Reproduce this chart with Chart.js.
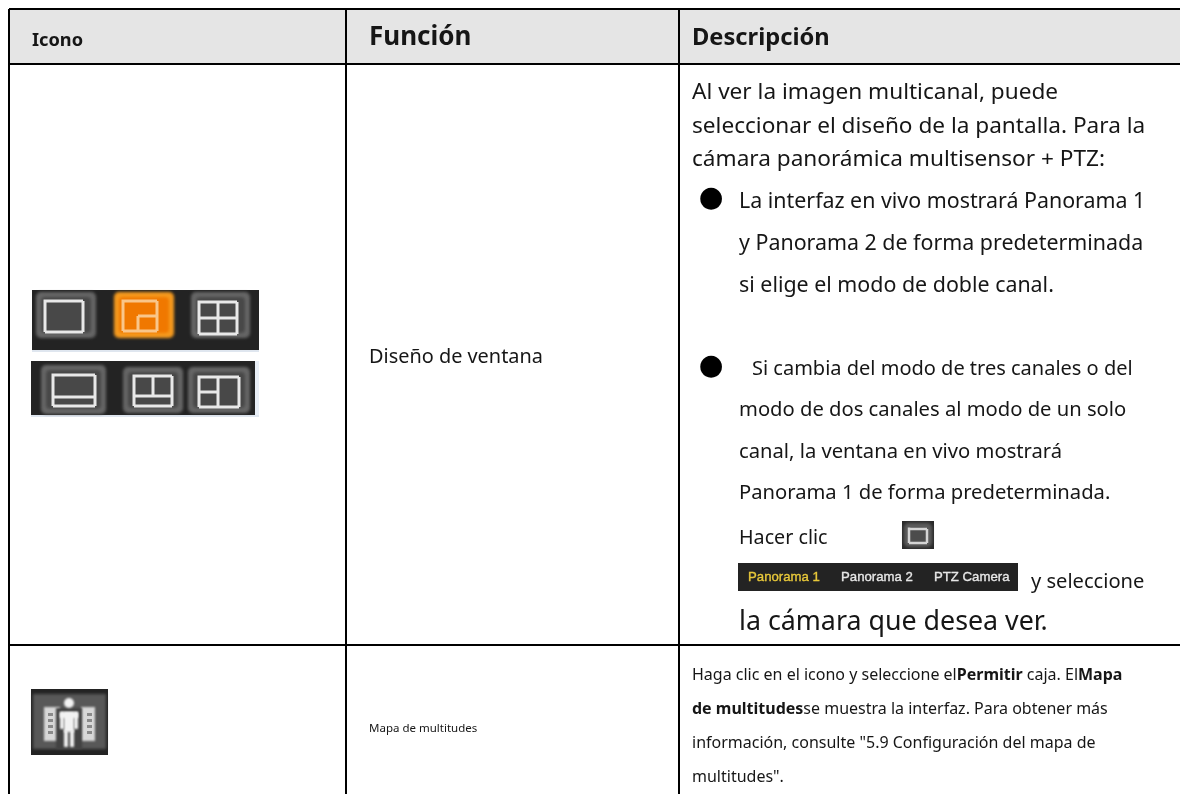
<!DOCTYPE html>
<html>
<head>
<meta charset="utf-8">
<title>Icono / Función / Descripción</title>
<script src="https://cdn.jsdelivr.net/npm/chart.js@4"></script>
<style>
    html, body { margin: 0; padding: 0; background: #fff; overflow: hidden; }
    canvas { display: block; }
</style>
</head>
<body>
<canvas id="tableChart" width="1180" height="794"></canvas>
<script>
// table content
const headers = ['Icono', 'Función', 'Descripción'];
const functions = ['Diseño de ventana', 'Mapa de multitudes'];
const introLines = [
    'Al ver la imagen multicanal, puede',
    'seleccionar el diseño de la pantalla. Para la',
    'cámara panorámica multisensor + PTZ:'
];
const bulletOne = [
    'La interfaz en vivo mostrará Panorama 1',
    'y Panorama 2 de forma predeterminada',
    'si elige el modo de doble canal.'
];
const bulletTwo = [
    'Si cambia del modo de tres canales o del',
    'modo de dos canales al modo de un solo',
    'canal, la ventana en vivo mostrará',
    'Panorama 1 de forma predeterminada.'
];
const clickLabel = 'Hacer clic';
const selectLabel = 'y seleccione';
const closingLine = 'la cámara que desea ver.';
const panoramaTabs = ['Panorama 1', 'Panorama 2', 'PTZ Camera'];
const crowdLines = [
    [['Haga clic en el icono y seleccione el', 400], ['Permitir', 700], [' caja. El', 400], ['Mapa', 700]],
    [['de multitudes', 700], ['se muestra la interfaz. Para obtener más', 400]],
    [['información, consulte "5.9 Configuración del mapa de', 400]],
    [['multitudes".', 400]]
];

// table rules, in page pixels
const columnEdges = [9, 346, 679];
const rowEdges = [9, 63.5, 645];

const FONT = '"Noto Sans", sans-serif';
const INK = '#161616';

function edgeTicks(edges) {
    return (scale) => { scale.ticks = edges.map(v => ({ value: v })); };
}

const tablePlugin = {
    id: 'tablePlugin',
    beforeDraw(chart) {
        const ctx = chart.ctx;
        const { x, y } = chart.scales;
        ctx.save();
        ctx.fillStyle = '#fff';
        ctx.fillRect(0, 0, chart.width, chart.height);
        ctx.fillStyle = '#e5e5e5';
        ctx.fillRect(x.getPixelForValue(9), y.getPixelForValue(9), 1180, y.getPixelForValue(63.5) - y.getPixelForValue(9));
        ctx.restore();
    },
    afterDraw(chart) {
        const ctx = chart.ctx;
        const { x, y } = chart.scales;
        const X = v => x.getPixelForValue(v);
        const Y = v => y.getPixelForValue(v);

        function text(str, px, py, size, weight, color, family) {
            ctx.font = `${weight || 400} ${size}px ${family || FONT}`;
            ctx.fillStyle = color || INK;
            ctx.textBaseline = 'alphabetic';
            ctx.fillText(str, X(px), Y(py));
        }

        function runs(parts, px, py, size) {
            let cur = X(px);
            parts.forEach(([str, weight]) => {
                ctx.font = `${weight} ${size}px ${FONT}`;
                ctx.fillStyle = INK;
                ctx.fillText(str, cur, Y(py));
                cur += ctx.measureText(str).width;
            });
        }

        function box(x0, y0, x1, y1, color, blur) {
            ctx.save();
            if (blur) ctx.filter = `blur(${blur}px)`;
            ctx.fillStyle = color;
            ctx.fillRect(X(x0), Y(y0), x1 - x0, y1 - y0);
            ctx.restore();
        }

        // grey blurred key with a lighter rim
        function key(x0, y0, x1, y1, rim, face) {
            ctx.save();
            ctx.filter = 'blur(1.5px)';
            ctx.fillStyle = rim || '#666';
            ctx.beginPath();
            ctx.roundRect(X(x0) + 1, Y(y0) + 1, x1 - x0 - 2, y1 - y0 - 2, 5);
            ctx.fill();
            ctx.fillStyle = face || '#484848';
            ctx.beginPath();
            ctx.roundRect(X(x0) + 6, Y(y0) + 6, x1 - x0 - 12, y1 - y0 - 12, 4);
            ctx.fill();
            ctx.restore();
        }

        function lines(segs, color, width) {
            ctx.save();
            ctx.filter = 'blur(0.6px)';
            ctx.strokeStyle = color || '#e8e8e8';
            ctx.lineWidth = width || 3;
            ctx.beginPath();
            segs.forEach(s => {
                ctx.moveTo(X(s[0]), Y(s[1]));
                ctx.lineTo(X(s[2]), Y(s[3]));
            });
            ctx.stroke();
            ctx.restore();
        }

        function frame(x0, y0, x1, y1, color, width) {
            lines([[x0, y0, x1, y0], [x1, y0, x1, y1], [x1, y1, x0, y1], [x0, y1, x0, y0 - 1.5]], color, width);
        }

        // headers
        text(headers[0], 32, 46, 18.2, 700);
        text(headers[1], 369, 45, 26, 700);
        text(headers[2], 692, 45, 23.7, 700);

        // function column
        text(functions[0], 369, 363, 19.9);
        text(functions[1], 369, 732, 11.5);

        // description column
        introLines.forEach((s, i) => text(s, 692, [99, 133, 166][i], 22.6));
        bulletOne.forEach((s, i) => text(s, 739, [208, 250, 292][i], 21.4));
        text(bulletTwo[0], 752, 375, 20);
        bulletTwo.slice(1).forEach((s, i) => text(s, 739, [416, 458, 499][i], 20.2));
        text('●', 698.8, 205.7, 28.5, 400, '#000', '"DejaVu Sans"');
        text('●', 698.8, 373.7, 28.5, 400, '#000', '"DejaVu Sans"');
        text(clickLabel, 739, 544, 19.7);
        text(selectLabel, 1031, 588, 20.1);
        text(closingLine, 739, 630, 26.8);
        crowdLines.forEach((parts, i) => runs(parts, 692, [680, 714, 748, 782][i], 16));

        // layout icons, first strip
        box(32, 290, 259, 352, '#232323');
        box(32, 350, 259, 352, '#dfe6ef');
        key(35, 291, 97, 339);
        frame(45, 301, 83, 332);
        key(113, 291, 175, 339, '#f59a1e', '#f07800');
        frame(123, 301, 157, 331, '#f9c68a');
        lines([[138, 331, 138, 316], [138, 316, 157, 316]], '#f9c68a');
        key(190, 291, 251, 339);
        frame(199, 302, 237, 334);
        lines([[218, 302, 218, 334], [199, 318, 237, 318]]);

        // second strip
        box(31, 361, 255, 415, '#232323');
        box(255, 361, 259, 417, '#e8eef6');
        box(31, 415, 259, 417, '#dfe6ef');
        key(40, 364, 107, 415);
        frame(53, 375, 95, 406);
        lines([[53, 397, 95, 397]]);
        key(122, 366, 184, 414);
        frame(134, 376, 172, 406);
        lines([[134, 396, 172, 396], [153, 376, 153, 396]]);
        key(187, 366, 251, 414);
        frame(199, 377, 239, 407);
        lines([[218, 377, 218, 407], [199, 392, 218, 392]]);

        // small icon next to "Hacer clic"
        box(902, 521, 934, 549, '#2a2a2a');
        key(903, 522, 933, 548, '#5c5c5c', '#4c4c4c');
        frame(909, 529, 927, 543, '#d4d4d4', 2.5);

        // panorama tab strip, text a little heavier like the scaled screenshot
        box(738, 563, 1018, 591, '#232323');
        [[panoramaTabs[0], 748, '#e8c83a'], [panoramaTabs[1], 841, '#e6e6e6'], [panoramaTabs[2], 934, '#e6e6e6']].forEach(([str, px, color]) => {
            text(str, px, 581, 13.2, 400, color, '"Liberation Sans"');
            ctx.strokeStyle = color;
            ctx.lineWidth = 0.35;
            ctx.strokeText(str, X(px), Y(581));
        });

        // crowd map icon
        box(31, 689, 108, 755, '#232323');
        box(33, 694, 106, 749, '#585858', 1.5);
        box(44, 707, 60, 741, '#d8d8d8', 0.8);
        box(81, 707, 95, 741, '#d8d8d8', 0.8);
        for (let i = 0; i < 4; i++) {
            box(48, 713 + i * 6, 53, 716 + i * 6, '#8a8a8a', 0.5);
            box(87, 713 + i * 6, 92, 716 + i * 6, '#8a8a8a', 0.5);
        }
        box(56, 708, 82, 749, '#424242', 1);
        ctx.save();
        ctx.filter = 'blur(0.8px)';
        ctx.fillStyle = '#f2f2f2';
        ctx.beginPath();
        ctx.arc(X(69), Y(703), 5, 0, Math.PI * 2);
        ctx.fill();
        ctx.fillRect(X(60), Y(712), 18, 6);
        ctx.fillRect(X(60), Y(712), 4, 17);
        ctx.fillRect(X(74), Y(712), 4, 17);
        ctx.fillRect(X(64), Y(712), 10, 20);
        ctx.fillRect(X(64), Y(730), 4, 17);
        ctx.fillRect(X(70), Y(730), 4, 17);
        ctx.restore();
    }
};

new Chart(document.getElementById('tableChart').getContext('2d'), {
    type: 'scatter',
    data: { datasets: [{ data: [], pointRadius: 0 }] },
    plugins: [tablePlugin],
    options: {
        responsive: false,
        animation: false,
        layout: { padding: { left: 9, top: 9, right: 0, bottom: 0 } },
        plugins: { legend: { display: false }, tooltip: { enabled: false } },
        scales: {
            x: {
                type: 'linear', min: 9, max: 1180,
                afterBuildTicks: edgeTicks(columnEdges),
                ticks: { display: false },
                border: { display: false },
                grid: { color: '#000', lineWidth: 2, drawTicks: false }
            },
            y: {
                type: 'linear', reverse: true, min: 9, max: 794,
                afterBuildTicks: edgeTicks(rowEdges),
                ticks: { display: false },
                border: { display: false },
                grid: { color: '#000', lineWidth: 2, drawTicks: false }
            }
        }
    }
});
</script>
</body>
</html>
